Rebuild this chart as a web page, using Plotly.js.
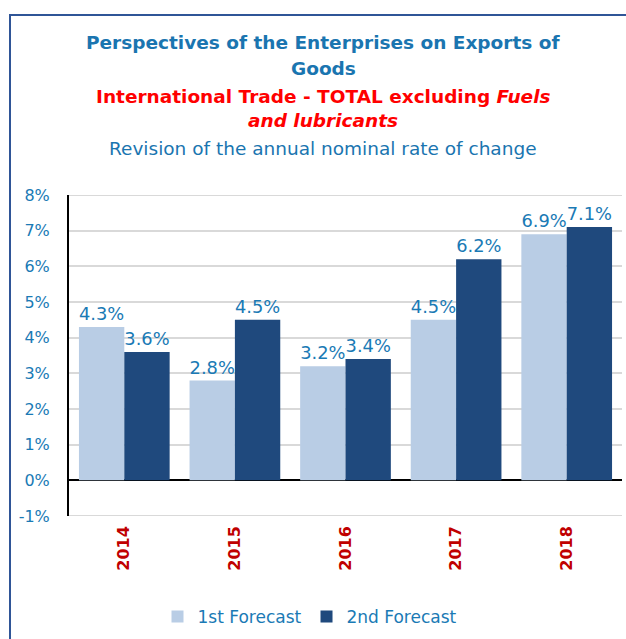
<!DOCTYPE html>
<html>
<head>
<meta charset="utf-8">
<script src="https://cdn.plot.ly/plotly-3.0.1.min.js"></script>
<style>
html,body{margin:0;padding:0;background:#fff;}
#wrap{position:relative;width:626px;height:639px;overflow:hidden;}
#frame{position:absolute;left:9px;top:14px;width:640px;height:660px;border:2px solid #2f5597;box-sizing:border-box;pointer-events:none;z-index:2;}
#chart{position:absolute;left:0;top:0;width:626px;height:639px;}
</style>
</head>
<body>
<div id="wrap"><div id="chart"></div><div id="frame"></div></div>
<script>
const years = ['2014','2015','2016','2017','2018'];
const firstForecast = [4.3, 2.8, 3.2, 4.5, 6.9];
const secondForecast = [3.6, 4.5, 3.4, 6.2, 7.1];
const seriesNames = ['1st Forecast', '2nd Forecast'];
const yTicks = [-1, 0, 1, 2, 3, 4, 5, 6, 7, 8];

const FONT = '"DejaVu Sans", Verdana, sans-serif';
const BLUE = '#1a7ab5';

function lbl(v){ return v.toFixed(1) + '%'; }

const traces = [
  {type:'bar', x: years, y: firstForecast, name: seriesNames[0],
   marker:{color:'#b9cde5'}, text: firstForecast.map(lbl), textposition:'outside',
   textfont:{family:FONT, size:19, color:BLUE}, cliponaxis:false, hoverinfo:'skip'},
  {type:'bar', x: years, y: secondForecast, name: seriesNames[1],
   marker:{color:'#1f497d'}, text: secondForecast.map(lbl), textposition:'outside',
   textfont:{family:FONT, size:19, color:BLUE}, cliponaxis:false, hoverinfo:'skip'}
];

const T = 195, B = 123, H = 639;
const ph = H - T - B;
function py(p){ return 1 + (T - p) / ph; }

const titleLines = [
  {t:'<b>Perspectives of the Enterprises on Exports of</b>', y:43, c:'#1a75b0', s:18.5},
  {t:'<b>Goods</b>', y:68, c:'#1a75b0', s:18.5},
  {t:'<b>International Trade - TOTAL excluding <i>Fuels</i></b>', y:97, c:'#ff0000', s:18.5},
  {t:'<b><i>and lubricants</i></b>', y:121, c:'#ff0000', s:18.5},
  {t:'Revision of the annual nominal rate of change', y:148, c:'#1a75b0', s:18.5}
];

const annotations = titleLines.map(l => ({
  text: l.t, xref:'paper', yref:'paper', x: (323 - 69) / (622 - 69), y: py(l.y),
  xanchor:'center', yanchor:'middle', showarrow:false,
  font:{family:FONT, size:l.s, color:l.c}
}));

const edgeGrid = [yTicks[0], yTicks[yTicks.length - 1]].map(v => ({
  type:'line', xref:'paper', yref:'y', x0:0, x1:1, y0:v, y1:v,
  line:{color:'#d9d9d9', width:2}, layer:'below'
}));

const layout = {
  width:626, height:639,
  margin:{l:69, r:4, t:T, b:B},
  paper_bgcolor:'#fff', plot_bgcolor:'#fff',
  barmode:'group', bargap:0.18, bargroupgap:0,
  showlegend:true,
  legend:{orientation:'h', x:(310-69)/(622-69), xanchor:'center', y:py(617), yanchor:'middle',
    font:{family:FONT, size:17, color:BLUE}, itemwidth:30, tracegroupgap:0},
  xaxis:{type:'category', tickangle:-90, showgrid:false, showline:false, ticks:'',
    tickfont:{family:FONT, size:16, color:'#c00000', weight:'bold'},
    ticklabelstandoff:6},
  yaxis:{range:[-1, 8], tickvals:yTicks, ticktext:yTicks.map(v => v + '%'),
    showgrid:true, gridcolor:'#d9d9d9', gridwidth:2,
    zeroline:true, zerolinecolor:'#000', zerolinewidth:2,
    showline:true, linecolor:'#000', linewidth:2, ticks:'',
    tickfont:{family:FONT, size:16, color:BLUE},
    ticklabelstandoff:14},
  shapes: edgeGrid,
  annotations: annotations
};

Plotly.newPlot('chart', traces, layout, {displayModeBar:false, staticPlot:true});
</script>
</body>
</html>
